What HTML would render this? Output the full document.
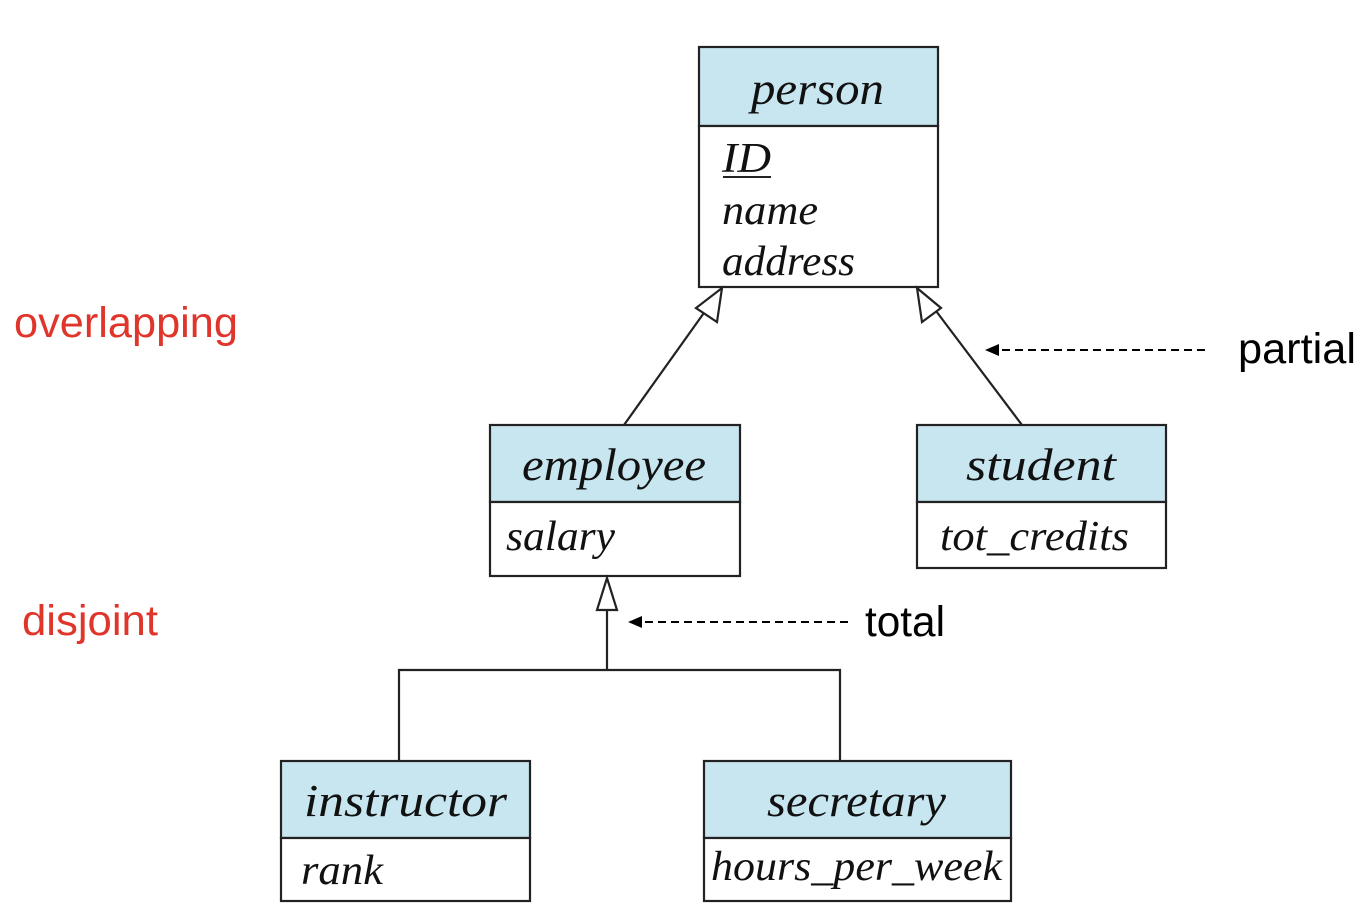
<!DOCTYPE html>
<html><head><meta charset="utf-8"><style>
html,body{margin:0;padding:0;background:#fff;}
svg{display:block;}
.t{font-family:"Liberation Serif",serif;font-style:italic;font-size:46px;fill:#111;}
.a{font-family:"Liberation Serif",serif;font-style:italic;font-size:42px;fill:#111;}
.s{font-family:"Liberation Sans",sans-serif;font-size:43px;}
</style></head><body>
<svg width="1366" height="922" viewBox="0 0 1366 922" xmlns="http://www.w3.org/2000/svg">
<g stroke="#222" stroke-width="2.2">
<rect x="699" y="47" width="239" height="79" fill="#c8e6f0"/>
<rect x="699" y="126" width="239" height="161" fill="#fff"/>
<rect x="490" y="425" width="250" height="77" fill="#c8e6f0"/>
<rect x="490" y="502" width="250" height="74" fill="#fff"/>
<rect x="917" y="425" width="249" height="77" fill="#c8e6f0"/>
<rect x="917" y="502" width="249" height="66" fill="#fff"/>
<rect x="281" y="761" width="249" height="77" fill="#c8e6f0"/>
<rect x="281" y="838" width="249" height="63" fill="#fff"/>
<rect x="704" y="761" width="307" height="77" fill="#c8e6f0"/>
<rect x="704" y="838" width="307" height="63" fill="#fff"/>
<line x1="624" y1="425" x2="711" y2="303" fill="none"/>
<polygon points="722,288 717,322 696,308" fill="#fff"/>
<line x1="1022" y1="425" x2="930" y2="303" fill="none"/>
<polygon points="917,288 941,308 922,322" fill="#fff"/>
<line x1="607" y1="610" x2="607" y2="670" fill="none"/>
<polygon points="607,578 617,610 597,610" fill="#fff"/>
<polyline points="399,761 399,670 840,670 840,761" fill="none"/>
</g>
<g stroke="#000" stroke-width="2" stroke-dasharray="8,5" fill="none">
<line x1="1205" y1="350" x2="997" y2="350" />
<line x1="848" y1="622" x2="640" y2="622" />
</g>
<path d="M985,350 L999,344 L999,356 Z" fill="#000"/>
<path d="M628,622 L642,616 L642,628 Z" fill="#000"/>
<text class="t" x="751" y="104" textLength="133" lengthAdjust="spacingAndGlyphs">person</text>
<text class="a" x="722" y="172" textLength="49" lengthAdjust="spacingAndGlyphs">ID</text>
<line x1="723" y1="177" x2="771" y2="177" stroke="#222" stroke-width="2"/>
<text class="a" x="722" y="224" textLength="96" lengthAdjust="spacingAndGlyphs">name</text>
<text class="a" x="722" y="275" textLength="133" lengthAdjust="spacingAndGlyphs">address</text>
<text class="t" x="522" y="480" textLength="184" lengthAdjust="spacingAndGlyphs">employee</text>
<text class="a" x="506" y="550" textLength="109" lengthAdjust="spacingAndGlyphs">salary</text>
<text class="t" x="966" y="480" textLength="150" lengthAdjust="spacingAndGlyphs">student</text>
<text class="a" x="940" y="550" textLength="189" lengthAdjust="spacingAndGlyphs">tot_credits</text>
<text class="t" x="304" y="816" textLength="203" lengthAdjust="spacingAndGlyphs">instructor</text>
<text class="a" x="301" y="884" textLength="82" lengthAdjust="spacingAndGlyphs">rank</text>
<text class="t" x="767" y="816" textLength="179" lengthAdjust="spacingAndGlyphs">secretary</text>
<text class="a" x="711" y="880" textLength="291" lengthAdjust="spacingAndGlyphs">hours_per_week</text>
<text class="s" x="14" y="337" fill="#e0352b" textLength="224" lengthAdjust="spacingAndGlyphs">overlapping</text>
<text class="s" x="22" y="635" fill="#e0352b" textLength="136" lengthAdjust="spacingAndGlyphs">disjoint</text>
<text class="s" x="1238" y="363" fill="#000" textLength="118" lengthAdjust="spacingAndGlyphs">partial</text>
<text class="s" x="865" y="636" fill="#000" textLength="80" lengthAdjust="spacingAndGlyphs">total</text>
</svg>
</body></html>
